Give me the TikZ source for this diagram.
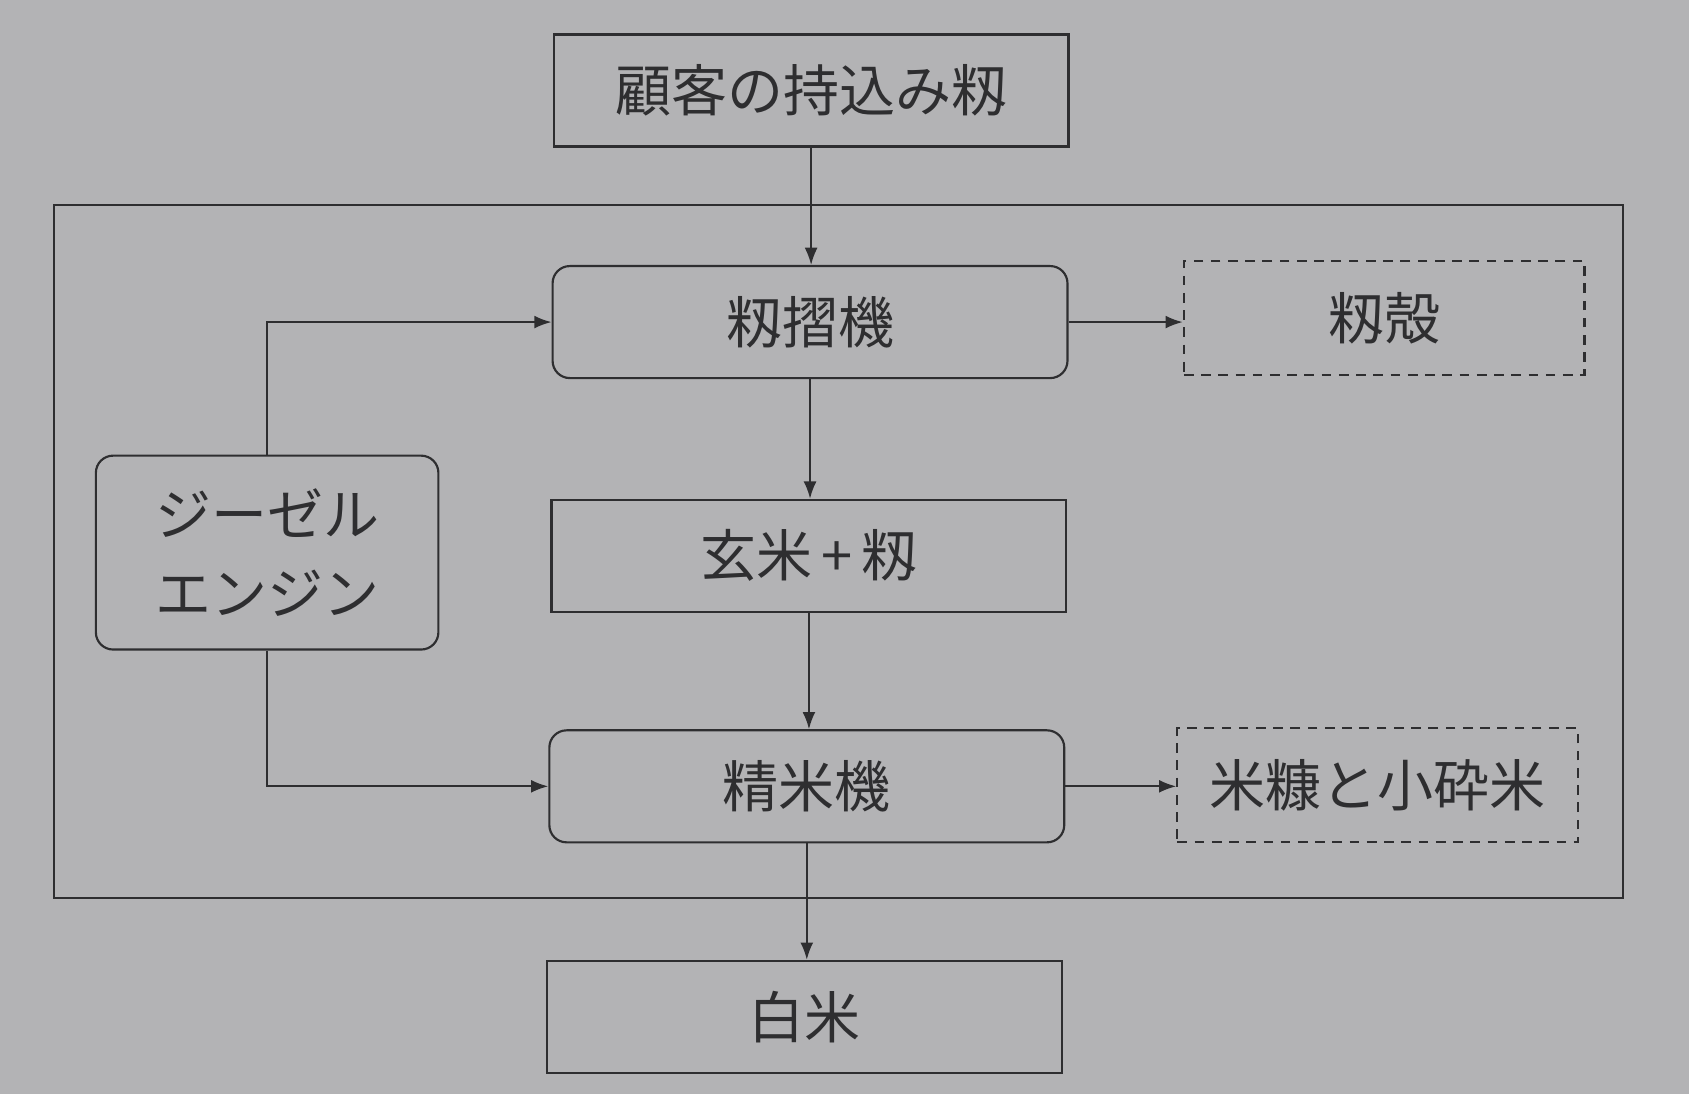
\documentclass[tikz,border=0pt]{standalone}
\usepackage{fontspec}
\setmainfont{Noto Sans CJK JP}
\usetikzlibrary{arrows.meta,calc}
\definecolor{bg}{HTML}{B3B3B5}
\definecolor{ink}{HTML}{2E2E30}
\begin{document}
\begin{tikzpicture}[x=0.5pt,y=-0.5pt,
  every node/.style={font=\fontsize{26pt}{35pt}\selectfont, text=ink},
  plainbox/.style={draw=ink, line width=1pt, minimum width=239pt, minimum height=52pt, inner sep=0pt},
  roundbox/.style={plainbox, rounded corners=8pt},
  dashbox/.style={draw=ink, line width=1pt, dash pattern=on 4.5pt off 3.5pt, minimum width=186pt, minimum height=53pt, inner sep=0pt},
  conn/.style={draw=ink, line width=0.9pt, -{Latex[length=8pt,width=6pt]}}]
\fill[bg] (0,0) rectangle (1568,1016);
\useasboundingbox (0,0) rectangle (1568,1016);
% frame
\draw[ink, line width=1pt] (50,190) rectangle (1507,834);
% nodes
\node[plainbox] (top) at (753,84) {顧客の持込み籾};
\node[roundbox] (mill1) at (752,299) {籾摺機};
\node[dashbox] (husk) at (1285,295) {籾殻};
\node[plainbox] (brown) at (751,516) {玄米\hspace{4pt}+\hspace{4pt}籾};
\node[roundbox] (mill2) at (749,730) {精米機};
\node[dashbox] (bran) at (1279,729) {米糠と小砕米};
\node[plainbox] (white) at (747,944) {白米};
\node[roundbox, minimum width=159pt, minimum height=90pt, align=center, font=\fontsize{26pt}{37pt}\selectfont] (engine) at (248,513) {ジーゼル\\エンジン};
% connectors
\draw[conn] (top.south) -- (top.south |- mill1.north);
\draw[conn] (mill1.south) -- (mill1.south |- brown.north);
\draw[conn] (brown.south) -- (brown.south |- mill2.north);
\draw[conn] (mill2.south) -- (mill2.south |- white.north);
\draw[conn] (engine.north) |- (mill1.west);
\draw[conn] (engine.south) |- (mill2.west);
\draw[conn] (mill1.east) -- (mill1.east -| husk.west);
\draw[conn] (mill2.east) -- (mill2.east -| bran.west);
\end{tikzpicture}
\end{document}
